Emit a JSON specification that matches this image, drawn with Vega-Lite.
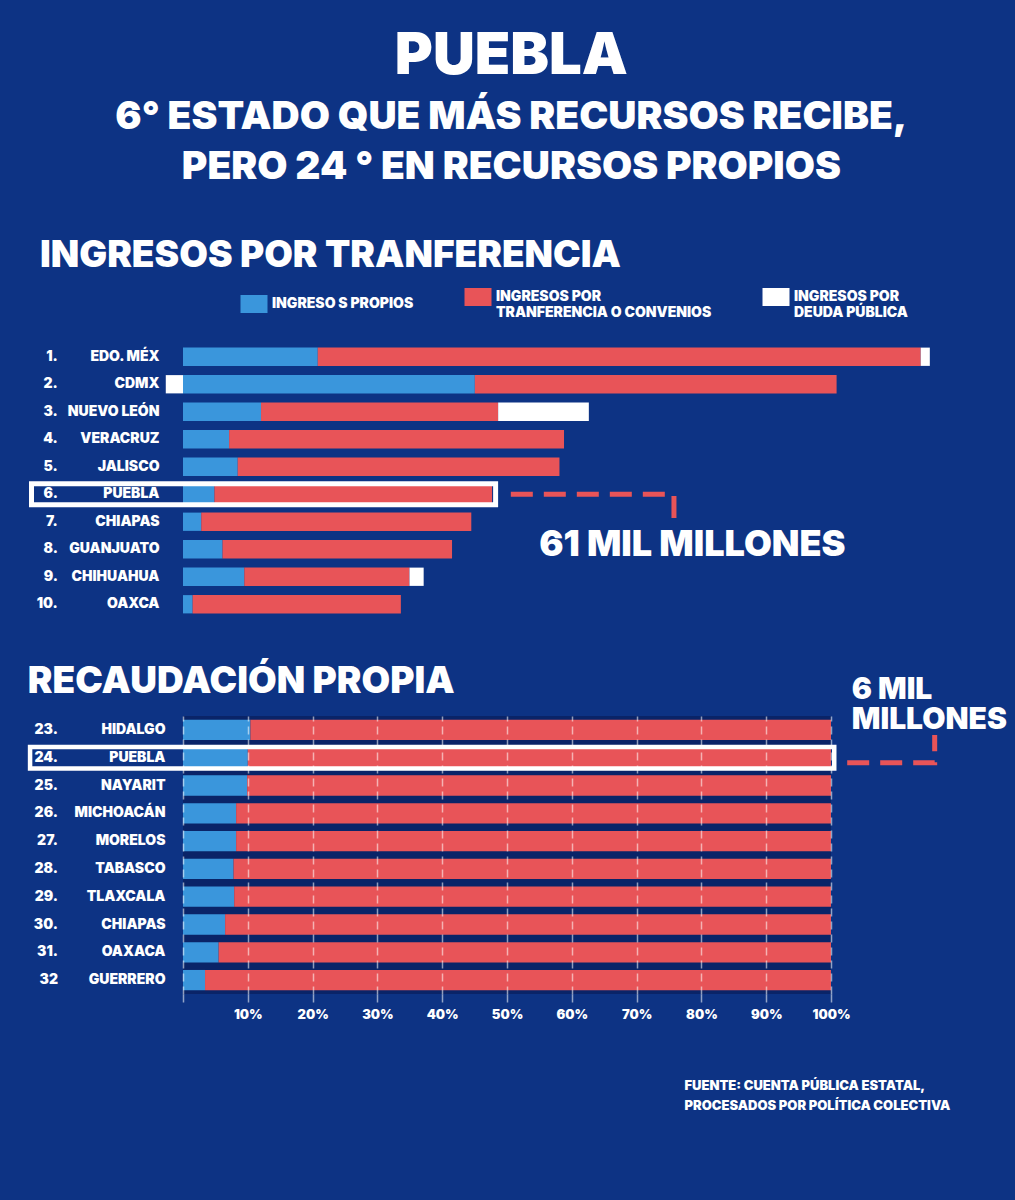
{
  "$schema": "https://vega.github.io/schema/vega-lite/v6.json",
  "usermeta": {"embedOptions": {"actions": false}},
  "background": "#0d3384",
  "padding": {"left": 27, "top": 28, "right": 10, "bottom": 132},
  "title": {
    "text": "PUEBLA",
    "subtitle": ["6° ESTADO QUE MÁS RECURSOS RECIBE,", "PERO 24 °  EN RECURSOS PROPIOS"],
    "anchor": "middle",
    "fontSize": 58,
    "subtitleColor": "white",
    "subtitleFont": "Inter",
    "subtitleFontWeight": 900,
    "subtitleFontSize": 39,
    "subtitleLineHeight": 50,
    "subtitlePadding": 12,
    "offset": 50,
    "dx": -6
  },
  "datasets": {
    "ingresos": [
      {"rank": "1.", "estado": "EDO. MÉX", "tipo": "INGRESO S PROPIOS", "valor": 26.6, "k": 1},
      {"rank": "1.", "estado": "EDO. MÉX", "tipo": "INGRESOS POR TRANFERENCIA O CONVENIOS", "valor": 119.0, "k": 2},
      {"rank": "1.", "estado": "EDO. MÉX", "tipo": "INGRESOS POR DEUDA PÚBLICA", "valor": 1.8, "k": 3},
      {"rank": "2.", "estado": "CDMX", "tipo": "INGRESO S PROPIOS", "valor": 57.6, "k": 1},
      {"rank": "2.", "estado": "CDMX", "tipo": "INGRESOS POR TRANFERENCIA O CONVENIOS", "valor": 71.4, "k": 2},
      {"rank": "2.", "estado": "CDMX", "tipo": "INGRESOS POR DEUDA PÚBLICA", "valor": -3.4, "k": 3},
      {"rank": "3.", "estado": "NUEVO LEÓN", "tipo": "INGRESO S PROPIOS", "valor": 15.4, "k": 1},
      {"rank": "3.", "estado": "NUEVO LEÓN", "tipo": "INGRESOS POR TRANFERENCIA O CONVENIOS", "valor": 46.8, "k": 2},
      {"rank": "3.", "estado": "NUEVO LEÓN", "tipo": "INGRESOS POR DEUDA PÚBLICA", "valor": 17.9, "k": 3},
      {"rank": "4.", "estado": "VERACRUZ", "tipo": "INGRESO S PROPIOS", "valor": 9.1, "k": 1},
      {"rank": "4.", "estado": "VERACRUZ", "tipo": "INGRESOS POR TRANFERENCIA O CONVENIOS", "valor": 66.1, "k": 2},
      {"rank": "5.", "estado": "JALISCO", "tipo": "INGRESO S PROPIOS", "valor": 10.8, "k": 1},
      {"rank": "5.", "estado": "JALISCO", "tipo": "INGRESOS POR TRANFERENCIA O CONVENIOS", "valor": 63.5, "k": 2},
      {"rank": "6.", "estado": "PUEBLA", "tipo": "INGRESO S PROPIOS", "valor": 6.2, "k": 1},
      {"rank": "6.", "estado": "PUEBLA", "tipo": "INGRESOS POR TRANFERENCIA O CONVENIOS", "valor": 54.8, "k": 2},
      {"rank": "7.", "estado": "CHIAPAS", "tipo": "INGRESO S PROPIOS", "valor": 3.6, "k": 1},
      {"rank": "7.", "estado": "CHIAPAS", "tipo": "INGRESOS POR TRANFERENCIA O CONVENIOS", "valor": 53.3, "k": 2},
      {"rank": "8.", "estado": "GUANJUATO", "tipo": "INGRESO S PROPIOS", "valor": 7.8, "k": 1},
      {"rank": "8.", "estado": "GUANJUATO", "tipo": "INGRESOS POR TRANFERENCIA O CONVENIOS", "valor": 45.3, "k": 2},
      {"rank": "9.", "estado": "CHIHUAHUA", "tipo": "INGRESO S PROPIOS", "valor": 12.1, "k": 1},
      {"rank": "9.", "estado": "CHIHUAHUA", "tipo": "INGRESOS POR TRANFERENCIA O CONVENIOS", "valor": 32.6, "k": 2},
      {"rank": "9.", "estado": "CHIHUAHUA", "tipo": "INGRESOS POR DEUDA PÚBLICA", "valor": 2.8, "k": 3},
      {"rank": "10.", "estado": "OAXCA", "tipo": "INGRESO S PROPIOS", "valor": 1.9, "k": 1},
      {"rank": "10.", "estado": "OAXCA", "tipo": "INGRESOS POR TRANFERENCIA O CONVENIOS", "valor": 41.1, "k": 2}
    ],
    "propia": [
      {"rank": "23.", "estado": "HIDALGO", "tipo": "PROPIOS", "valor": 10.4, "k": 1},
      {"rank": "23.", "estado": "HIDALGO", "tipo": "OTROS", "valor": 89.6, "k": 2},
      {"rank": "24.", "estado": "PUEBLA", "tipo": "PROPIOS", "valor": 10.0, "k": 1},
      {"rank": "24.", "estado": "PUEBLA", "tipo": "OTROS", "valor": 90.0, "k": 2},
      {"rank": "25.", "estado": "NAYARIT", "tipo": "PROPIOS", "valor": 9.9, "k": 1},
      {"rank": "25.", "estado": "NAYARIT", "tipo": "OTROS", "valor": 90.1, "k": 2},
      {"rank": "26.", "estado": "MICHOACÁN", "tipo": "PROPIOS", "valor": 8.2, "k": 1},
      {"rank": "26.", "estado": "MICHOACÁN", "tipo": "OTROS", "valor": 91.8, "k": 2},
      {"rank": "27.", "estado": "MORELOS", "tipo": "PROPIOS", "valor": 8.2, "k": 1},
      {"rank": "27.", "estado": "MORELOS", "tipo": "OTROS", "valor": 91.8, "k": 2},
      {"rank": "28.", "estado": "TABASCO", "tipo": "PROPIOS", "valor": 7.8, "k": 1},
      {"rank": "28.", "estado": "TABASCO", "tipo": "OTROS", "valor": 92.2, "k": 2},
      {"rank": "29.", "estado": "TLAXCALA", "tipo": "PROPIOS", "valor": 7.9, "k": 1},
      {"rank": "29.", "estado": "TLAXCALA", "tipo": "OTROS", "valor": 92.1, "k": 2},
      {"rank": "30.", "estado": "CHIAPAS", "tipo": "PROPIOS", "valor": 6.5, "k": 1},
      {"rank": "30.", "estado": "CHIAPAS", "tipo": "OTROS", "valor": 93.5, "k": 2},
      {"rank": "31.", "estado": "OAXACA", "tipo": "PROPIOS", "valor": 5.5, "k": 1},
      {"rank": "31.", "estado": "OAXACA", "tipo": "OTROS", "valor": 94.5, "k": 2},
      {"rank": "32", "estado": "GUERRERO", "tipo": "PROPIOS", "valor": 3.4, "k": 1},
      {"rank": "32", "estado": "GUERRERO", "tipo": "OTROS", "valor": 96.6, "k": 2}
    ]
  },
  "resolve": {
    "scale": {"x": "independent", "y": "independent", "color": "independent"},
    "legend": {"color": "independent"}
  },
  "spacing": 44,
  "vconcat": [
    {
      "width": 760,
      "height": 275,
      "title": {"text": "INGRESOS POR TRANFERENCIA", "anchor": "start", "fontSize": 37, "offset": 12, "dx": 11},
      "data": {"name": "ingresos"},
      "layer": [
        {
          "mark": {"type": "bar", "clip": false},
          "encoding": {
            "y": {
              "field": "estado", "type": "nominal",
              "scale": {"domain": ["EDO. MÉX", "CDMX", "NUEVO LEÓN", "VERACRUZ", "JALISCO", "PUEBLA", "CHIAPAS", "GUANJUATO", "CHIHUAHUA", "OAXCA"], "paddingInner": 0.335, "paddingOuter": 0.1675},
              "axis": {"title": null, "domain": false, "ticks": false, "labelPadding": 24, "labelFontSize": 14, "grid": false}
            },
            "x": {"field": "valor", "type": "quantitative", "stack": "zero", "scale": {"domain": [0, 150], "nice": false, "zero": false}, "axis": null},
            "color": {
              "field": "tipo", "type": "nominal",
              "scale": {"domain": ["INGRESO S PROPIOS", "INGRESOS POR TRANFERENCIA O CONVENIOS", "INGRESOS POR DEUDA PÚBLICA"], "range": ["#3a96dc", "#e85458", "#ffffff"]},
              "legend": {
                "orient": "none", "legendX": 61, "legendY": -56, "direction": "horizontal", "title": null,
                "symbolType": "M-1.35,-0.9H1.35V0.9H-1.35Z", "symbolSize": 400, "symbolStrokeWidth": 0, "symbolOpacity": 1,
                "labelColor": "white", "labelFont": "Inter", "labelFontWeight": 900, "labelFontSize": 14, "labelLimit": 0,
                "columnPadding": 50, "labelOffset": 8,
                "labelExpr": "datum.label === 'INGRESO S PROPIOS' ? datum.label : ['INGRESOS  POR', slice(datum.label, 13)]"
              }
            },
            "order": {"field": "k", "type": "quantitative"}
          }
        },
        {
          "transform": [{"filter": "datum.k == 1"}],
          "mark": {"type": "text", "align": "right", "baseline": "middle", "fontSize": 14, "clip": false},
          "encoding": {
            "y": {"field": "estado", "type": "nominal"},
            "x": {"datum": -24.7, "type": "quantitative", "scale": {"domain": [0, 150], "nice": false, "zero": false}},
            "text": {"field": "rank"}
          }
        },
        {
          "transform": [{"filter": "datum.k == 1 && datum.estado == 'PUEBLA'"}],
          "mark": {"type": "bar", "fill": "transparent", "stroke": "white", "strokeWidth": 5, "height": {"band": 1.15}, "clip": false},
          "encoding": {
            "y": {"field": "estado", "type": "nominal"},
            "x": {"datum": -29.9, "type": "quantitative", "scale": {"domain": [0, 150], "nice": false, "zero": false}},
            "x2": {"datum": 61.7}
          }
        },
        {
          "data": {"values": [
            {"px": 64.7, "py": "PUEBLA", "i": 1},
            {"px": 96.9, "py": "PUEBLA", "i": 2},
            {"px": 96.9, "py": "CHIAPAS", "i": 3}
          ]},
          "mark": {"type": "line", "color": "#e85458", "strokeWidth": 5, "strokeDash": [22, 11], "clip": false},
          "encoding": {
            "x": {"field": "px", "type": "quantitative", "scale": {"domain": [0, 150], "nice": false, "zero": false}},
            "y": {"field": "py", "type": "nominal"},
            "order": {"field": "i", "type": "quantitative"}
          }
        },
        {
          "data": {"values": [{"t": "61 MIL MILLONES", "tx": 70.3, "ty": "GUANJUATO"}]},
          "mark": {"type": "text", "align": "left", "baseline": "middle", "fontSize": 36, "dy": -4, "clip": false},
          "encoding": {
            "x": {"field": "tx", "type": "quantitative", "scale": {"domain": [0, 150], "nice": false, "zero": false}},
            "y": {"field": "ty", "type": "nominal"},
            "text": {"field": "t"}
          }
        }
      ]
    },
    {
      "width": 648,
      "height": 278,
      "view": {"fill": "#0a2468", "stroke": null},
      "title": {"text": "RECAUDACIÓN PROPIA", "anchor": "start", "fontSize": 37, "offset": -26},
      "data": {"name": "propia"},
      "layer": [
        {
          "mark": {"type": "bar", "clip": false},
          "encoding": {
            "y": {
              "field": "estado", "type": "nominal",
              "scale": {"domain": ["HIDALGO", "PUEBLA", "NAYARIT", "MICHOACÁN", "MORELOS", "TABASCO", "TLAXCALA", "CHIAPAS", "OAXACA", "GUERRERO"], "paddingInner": 0.27, "paddingOuter": 0.135},
              "axis": {"title": null, "domain": false, "ticks": false, "labelPadding": 18, "labelFontSize": 14, "grid": false}
            },
            "x": {
              "field": "valor", "type": "quantitative", "stack": "zero", "scale": {"domain": [0, 100], "nice": false, "zero": false},
              "axis": {
                "values": [0, 10, 20, 30, 40, 50, 60, 70, 80, 90, 100],
                "labelExpr": "datum.value == 0 ? '' : datum.value + '%'",
                "labelFontSize": 13, "labelPadding": 6, "labelFlush": false, "labelOverlap": false,
                "grid": true, "gridDash": [8, 5], "gridColor": "white", "gridOpacity": 0.55, "gridWidth": 1.5,
                "zindex": 1, "domain": false,
                "ticks": true, "tickSize": 8, "tickDash": [8, 5], "tickColor": "white", "tickOpacity": 0.55, "tickWidth": 1.5,
                "title": ["FUENTE: CUENTA PÚBLICA ESTATAL,", "PROCESADOS POR POLÍTICA COLECTIVA"],
                "titleX": 501, "titleY": 85, "titleAlign": "left", "titleBaseline": "top", "titleAngle": 0,
                "titleFontSize": 13, "titleLineHeight": 20
              }
            },
            "color": {
              "field": "tipo", "type": "nominal",
              "scale": {"domain": ["PROPIOS", "OTROS"], "range": ["#3a96dc", "#e85458"]},
              "legend": null
            },
            "order": {"field": "k", "type": "quantitative"}
          }
        },
        {
          "transform": [{"filter": "datum.k == 1"}],
          "mark": {"type": "text", "align": "right", "baseline": "middle", "fontSize": 14, "clip": false},
          "encoding": {
            "y": {"field": "estado", "type": "nominal"},
            "x": {"datum": -19.3, "type": "quantitative", "scale": {"domain": [0, 100], "nice": false, "zero": false}},
            "text": {"field": "rank"}
          }
        },
        {
          "transform": [{"filter": "datum.k == 1 && datum.estado == 'PUEBLA'"}],
          "mark": {"type": "bar", "fill": "transparent", "stroke": "white", "strokeWidth": 4.5, "height": {"band": 1.06}, "clip": false},
          "encoding": {
            "y": {"field": "estado", "type": "nominal"},
            "x": {"datum": -23.6, "type": "quantitative", "scale": {"domain": [0, 100], "nice": false, "zero": false}},
            "x2": {"datum": 100.5}
          }
        },
        {
          "data": {"values": [
            {"px": 102.5, "py": "PUEBLA", "i": 1},
            {"px": 116.0, "py": "PUEBLA", "i": 2},
            {"px": 116.0, "py": "HIDALGO", "i": 3}
          ]},
          "mark": {"type": "line", "color": "#e85458", "strokeWidth": 5, "strokeDash": [22, 11], "yOffset": 5, "clip": false},
          "encoding": {
            "x": {"field": "px", "type": "quantitative", "scale": {"domain": [0, 100], "nice": false, "zero": false}},
            "y": {"field": "py", "type": "nominal"},
            "order": {"field": "i", "type": "quantitative"}
          }
        },
        {
          "data": {"values": [{"t": "6 MIL|MILLONES", "tx": 103.2, "ty": "HIDALGO"}]},
          "mark": {"type": "text", "align": "left", "baseline": "bottom", "fontSize": 30, "lineHeight": 30, "dy": -25, "clip": false},
          "encoding": {
            "x": {"field": "tx", "type": "quantitative", "scale": {"domain": [0, 100], "nice": false, "zero": false}},
            "y": {"field": "ty", "type": "nominal"},
            "text": {"field": "t"}
          }
        }
      ]
    }
  ],
  "config": {
    "font": "Inter",
    "view": {"stroke": null},
    "title": {"color": "white", "font": "Inter", "fontWeight": 900},
    "axis": {"labelColor": "white", "labelFont": "Inter", "labelFontWeight": 900, "titleColor": "white", "titleFont": "Inter", "titleFontWeight": 900},
    "text": {"color": "white", "font": "Inter", "fontWeight": 900, "lineBreak": "|"}
  }
}
